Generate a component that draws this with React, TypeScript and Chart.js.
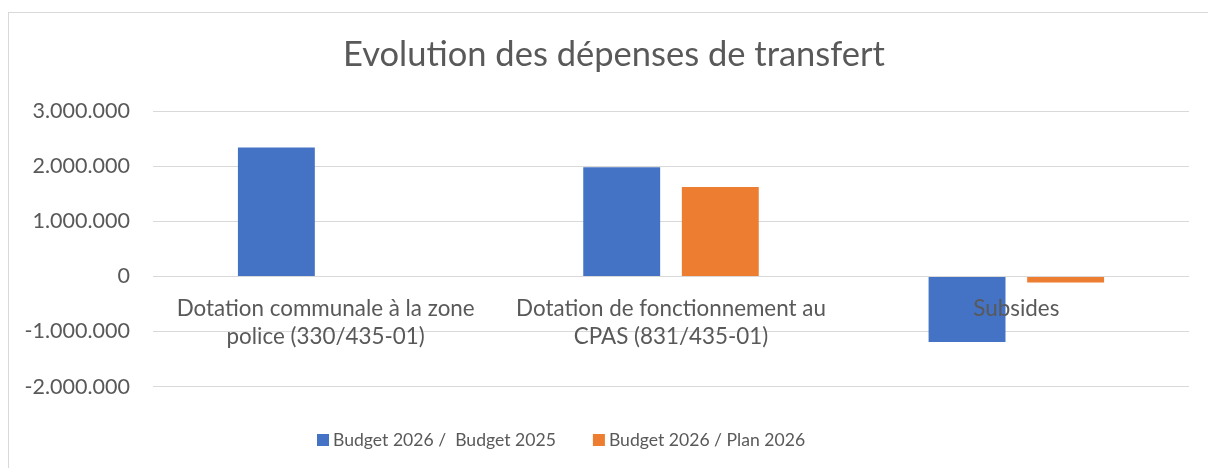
import { useEffect, useRef } from 'react';
import { Chart, registerables } from 'chart.js';

Chart.register(...registerables);

const TITLE = 'Evolution des dépenses de transfert';
const CATEGORIES = [
  ['Dotation communale à la zone', 'police (330/435-01)'],
  ['Dotation de fonctionnement au', 'CPAS (831/435-01)'],
  ['Subsides'],
];
const SERIES_NAMES = ['Budget 2026 /  Budget 2025', 'Budget 2026 / Plan 2026'];
const BUDGET_VS_BUDGET = [2340000, 1980000, -1190000];
const BUDGET_VS_PLAN = [0, 1620000, -110000];
const Y_TICKS = [-2000000, -1000000, 0, 1000000, 2000000, 3000000];
const Y_TICK_LABELS = ['-2.000.000', '-1.000.000', '0', '1.000.000', '2.000.000', '3.000.000'];

const FONT = 'Lato';
const TEXT = '#595959';
const BLUE = '#4472C4';
const ORANGE = '#ED7D31';

const excelLegend = {
  id: 'excelLegend',
  afterDraw(chart: any) {
    const ctx = chart.ctx;
    ctx.save();
    ctx.font = `17.6px ${FONT}`;
    ctx.textBaseline = 'middle';
    ctx.textAlign = 'left';
    let x = 317;
    const y = 440;
    chart.data.datasets.forEach((ds: any) => {
      ctx.fillStyle = ds.backgroundColor;
      ctx.fillRect(x, y - 6, 12, 12);
      x += 16;
      ctx.fillStyle = TEXT;
      ctx.fillText(ds.label, x, y);
      x += ctx.measureText(ds.label).width + 37;
    });
    ctx.restore();
  },
};

// Excel centres the title on the whole chart frame (which starts at x=8 and runs past the window)
const titleShift = {
  id: 'titleShift',
  afterLayout(chart: any) {
    if (chart.titleBlock) chart.titleBlock.left = 39;
  },
};

export default function App() {
  const ref = useRef<HTMLCanvasElement | null>(null);

  useEffect(() => {
    if (!ref.current) return;
    const chart = new Chart(ref.current, {
      type: 'bar',
      data: {
        labels: CATEGORIES,
        datasets: [
          {
            label: SERIES_NAMES[0],
            data: BUDGET_VS_BUDGET,
            backgroundColor: BLUE,
            categoryPercentage: 0.571,
            barPercentage: 0.78,
          },
          {
            label: SERIES_NAMES[1],
            data: BUDGET_VS_PLAN,
            backgroundColor: ORANGE,
            categoryPercentage: 0.571,
            barPercentage: 0.78,
          },
        ],
      },
      options: {
        animation: false,
        responsive: false,
        maintainAspectRatio: false,
        devicePixelRatio: 1,
        layout: { padding: { left: 0, right: 19, top: 0, bottom: 81.3 } },
        plugins: {
          legend: { display: false },
          tooltip: { enabled: false },
          title: {
            display: true,
            text: TITLE,
            color: TEXT,
            font: { family: FONT, size: 34.5, weight: 'normal', lineHeight: 1.2 },
            padding: { top: 34.3, bottom: 35.3 },
          },
        },
        scales: {
          x: {
            type: 'category',
            position: { y: 0 } as any,
            grid: { display: false, drawTicks: false },
            border: { display: false },
            ticks: {
              z: 1,
              color: TEXT,
              font: { family: FONT, size: 22.4, lineHeight: 1.22 },
              padding: 19,
              autoSkip: false,
              maxRotation: 0,
              minRotation: 0,
            },
          },
          y: {
            min: -2000000,
            max: 3000000,
            afterFit: (s: any) => {
              s.width = 153;
            },
            afterBuildTicks: (s: any) => {
              s.ticks = Y_TICKS.map((v) => ({ value: v }));
            },
            grid: { color: '#d9d9d9', lineWidth: 1, drawTicks: false },
            border: { display: false },
            ticks: {
              color: TEXT,
              font: { family: FONT, size: 21.5 },
              padding: 23,
              callback: (v: any) => {
                const i = Y_TICKS.indexOf(Number(v));
                return i >= 0 ? Y_TICK_LABELS[i] : '';
              },
            },
          },
        },
      },
      plugins: [titleShift, excelLegend],
    });
    return () => chart.destroy();
  }, []);

  return (
    <div style={{ position: 'absolute', left: 0, top: 0, width: 1208, height: 468, overflow: 'hidden', background: '#fff' }}>
      <div style={{ position: 'absolute', left: 8, top: 12, width: 1400, height: 700, border: '1px solid #d9d9d9' }} />
      <canvas ref={ref} width={1208} height={468} style={{ position: 'absolute', left: 0, top: 0, width: 1208, height: 468 }} />
    </div>
  );
}
